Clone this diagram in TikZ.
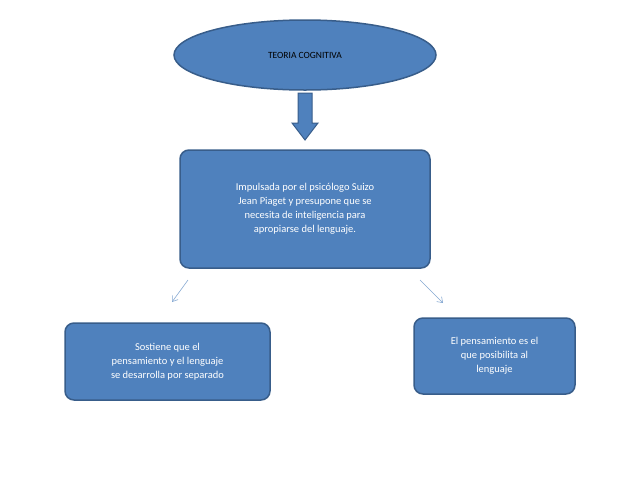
\documentclass[tikz,border=0pt]{standalone}
\usepackage{fontspec}
\setmainfont{Carlito}
\usetikzlibrary{shapes.geometric,arrows.meta}
\definecolor{fillb}{HTML}{4F81BD}
\definecolor{edgeb}{HTML}{385D8A}
\tikzset{
  box/.style={draw=edgeb,line width=1.5pt,fill=fillb,rounded corners=9pt,text=white,align=center,font=\fontsize{10.5}{14}\selectfont,inner sep=0pt},
  thin/.style={draw=fillb!70,line width=0.6pt,-{Straight Barb[length=5pt,width=7pt]}}
}
\begin{document}
\begin{tikzpicture}[x=1pt,y=-1pt]
\useasboundingbox (0,0) rectangle (639,480);
\node[ellipse,draw=edgeb,line width=1.5pt,fill=fillb,minimum width=262,minimum height=70,font=\fontsize{9.5}{12}\selectfont] (top) at (305,55) {TEORIA COGNITIVA};
\node[box,minimum width=250,minimum height=118] (mid) at (305,209) {Impulsada por el psicólogo Suizo\\Jean Piaget y presupone que se\\necesita de inteligencia para\\apropiarse del lenguaje.};
\node[box,minimum width=205,minimum height=77] (left) at (167.5,361.5) {Sostiene que el\\pensamiento y el lenguaje\\se desarrolla por separado};
\node[box,minimum width=161,minimum height=76] (right) at (494.5,356) {El pensamiento es el\\que posibilita al\\lenguaje};
\coordinate (a1) at (305,93);
\coordinate (a2) at (305,140);
\fill[fillb,draw=edgeb,line width=1pt] (298,93) -- (312,93) -- (312,123) -- (318,123) -- (305,140) -- (292,123) -- (298,123) -- cycle;
\coordinate (l1) at (188,280); \coordinate (l2) at (172,302);
\coordinate (r1) at (420,280); \coordinate (r2) at (443,303);
\draw[thin] (l1) -- (l2);
\draw[thin] (r1) -- (r2);
\end{tikzpicture}
\end{document}
